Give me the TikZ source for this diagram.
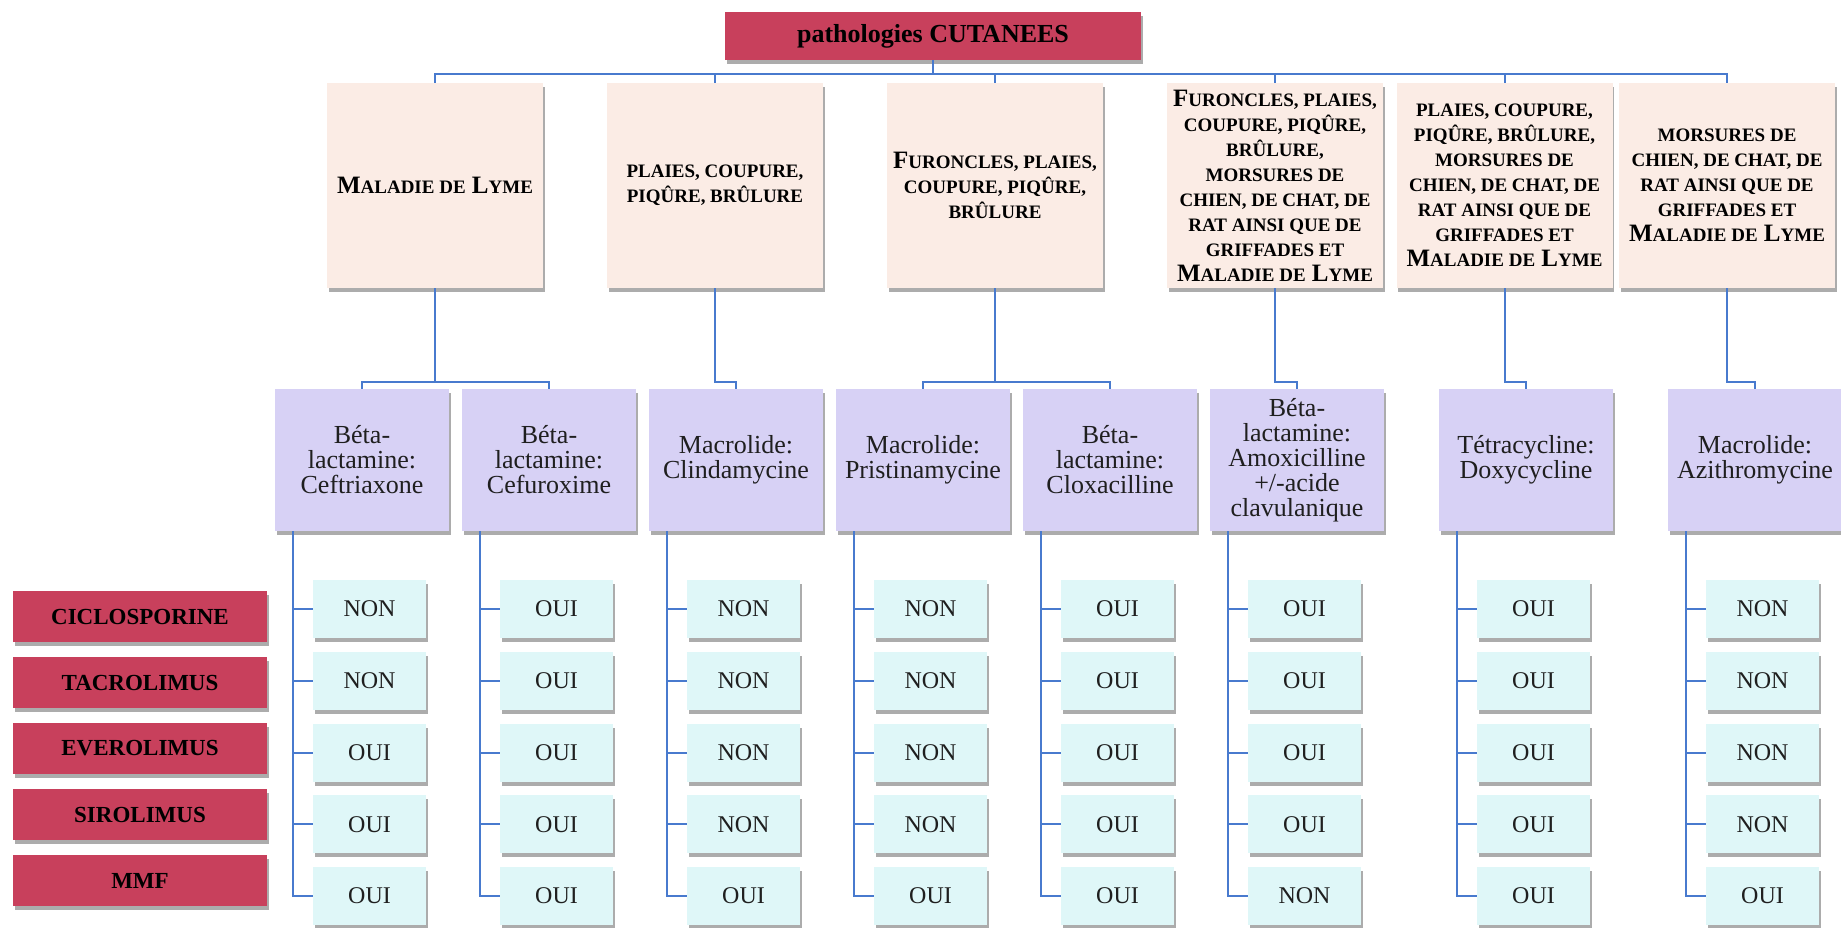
\documentclass[tikz,border=0pt]{standalone}
\usepackage{fontspec}
\setmainfont{Liberation Serif}
\usetikzlibrary{shadows}

\definecolor{cramoisi}{RGB}{200,64,92}
\definecolor{peche}{RGB}{251,236,229}
\definecolor{lavande}{RGB}{215,209,245}
\definecolor{cyanpale}{RGB}{223,247,248}
\definecolor{bleulien}{RGB}{72,122,206}

\newcommand{\pc}[1]{{\fontsize{9.5}{12.5}\selectfont #1}}

\tikzset{
  ombre/.style={drop shadow={shadow xshift=0.8pt, shadow yshift=-2pt, fill=black!65, opacity=0.5}},
  titre/.style={ombre, fill=cramoisi, minimum width=208pt, minimum height=24pt, font=\fontsize{13}{15}\selectfont\bfseries},
  patho/.style={ombre, fill=peche, minimum width=108pt, minimum height=102.5pt, inner sep=1pt, align=center, font=\fontsize{12.5}{12.5}\selectfont\bfseries},
  atb/.style={ombre, fill=lavande, minimum width=87pt, minimum height=71pt, inner sep=1pt, align=center, font=\fontsize{13}{12.5}\selectfont, text=black!88},
  rep/.style={ombre, fill=cyanpale, minimum width=56.5pt, minimum height=29pt, font=\fontsize{12}{14}\selectfont, text=black!88},
  immuno/.style={ombre, fill=cramoisi, minimum width=127pt, minimum height=25.5pt, font=\fontsize{11.5}{14}\selectfont\bfseries},
  lien/.style={draw=bleulien, line width=1pt}
}

\begin{document}
\begin{tikzpicture}[x=0.5pt, y=-0.5pt]
  \useasboundingbox (0,0) rectangle (1841,927);

  \node[titre] (racine) at (933,36) {pathologies CUTANEES};

  % pathologies
  \node[patho] (patho1) at (435,185.5) {M\pc{ALADIE DE} L\pc{YME}};
  \node[patho] (patho2) at (715,185.5) {\pc{PLAIES, COUPURE,}\\\pc{PIQÛRE, BRÛLURE}};
  \node[patho] (patho3) at (995,185.5) {F\pc{URONCLES, PLAIES,}\\\pc{COUPURE, PIQÛRE,}\\\pc{BRÛLURE}};
  \node[patho] (patho4) at (1275,185.5) {F\pc{URONCLES, PLAIES,}\\\pc{COUPURE, PIQÛRE,}\\\pc{BRÛLURE,}\\\pc{MORSURES DE}\\\pc{CHIEN, DE CHAT, DE}\\\pc{RAT AINSI QUE DE}\\\pc{GRIFFADES ET}\\M\pc{ALADIE DE} L\pc{YME}};
  \node[patho] (patho5) at (1504.5,185.5) {\pc{PLAIES, COUPURE,}\\\pc{PIQÛRE, BRÛLURE,}\\\pc{MORSURES DE}\\\pc{CHIEN, DE CHAT, DE}\\\pc{RAT AINSI QUE DE}\\\pc{GRIFFADES ET}\\M\pc{ALADIE DE} L\pc{YME}};
  \node[patho] (patho6) at (1727,185.5) {\pc{MORSURES DE}\\\pc{CHIEN, DE CHAT, DE}\\\pc{RAT AINSI QUE DE}\\\pc{GRIFFADES ET}\\M\pc{ALADIE DE} L\pc{YME}};

  % antibiotiques
  \node[atb] (atb1) at (362,460) {Béta-\\lactamine:\\Ceftriaxone};
  \node[atb] (atb2) at (549,460) {Béta-\\lactamine:\\Cefuroxime};
  \node[atb] (atb3) at (736,460) {Macrolide:\\Clindamycine};
  \node[atb] (atb4) at (923,460) {Macrolide:\\Pristinamycine};
  \node[atb] (atb5) at (1110,460) {Béta-\\lactamine:\\Cloxacilline};
  \node[atb] (atb6) at (1297,460) {Béta-\\lactamine:\\Amoxicilline\\+/-acide\\clavulanique};
  \node[atb] (atb7) at (1526,460) {Tétracycline:\\Doxycycline};
  \node[atb] (atb8) at (1755,460) {Macrolide:\\Azithromycine};

  % immunosuppresseurs
  \node[immuno] (immu1) at (140,616.5) {CICLOSPORINE};
  \node[immuno] (immu2) at (140,682.5) {TACROLIMUS};
  \node[immuno] (immu3) at (140,748.5) {EVEROLIMUS};
  \node[immuno] (immu4) at (140,814.5) {SIROLIMUS};
  \node[immuno] (immu5) at (140,880.5) {MMF};

  \foreach \p in {1,...,6}
    \draw[lien] (racine.south) -- ++(0,-7pt) -| (patho\p.north);

  \foreach \p/\a in {1/1,1/2,2/3,3/4,3/5,4/6,5/7,6/8}
    \draw[lien] (patho\p.south) -- ++(0,-47pt) -| (atb\a.north);

  % reponses OUI / NON
  \foreach \c/\g/\liste in {1/275/{NON,NON,OUI,OUI,OUI}, 2/462/{OUI,OUI,OUI,OUI,OUI},
      3/649/{NON,NON,NON,NON,OUI}, 4/836/{NON,NON,NON,NON,OUI}, 5/1023/{OUI,OUI,OUI,OUI,OUI},
      6/1210/{OUI,OUI,OUI,OUI,NON}, 7/1439/{OUI,OUI,OUI,OUI,OUI}, 8/1668/{NON,NON,NON,NON,OUI}}{
    \foreach \a [count=\r] in \liste {
      \node[rep] (rep\c-\r) at (\g+94.5, 609+71.75*\r-71.75) {\a};
      \draw[lien] ([xshift=9pt]atb\c.south west) |- (rep\c-\r.west);
    }
  }

\end{tikzpicture}
\end{document}
